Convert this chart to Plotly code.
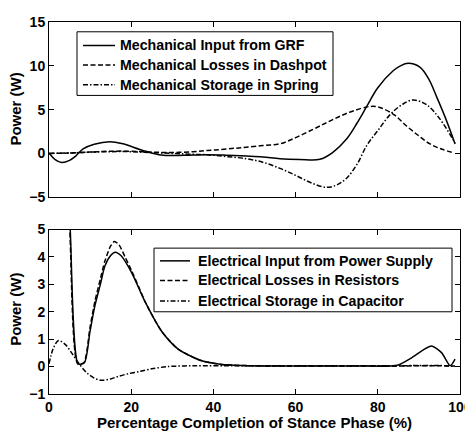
import plotly.graph_objects as go

# ---------------- Top panel (mechanical) ----------------
mech_in_x = [0, 1.5, 3.1, 5, 6.5, 8.3, 11, 14.8, 18, 22.1, 25, 27.8, 33, 38.4, 43, 48, 52, 56.2, 61, 65.9,
             69, 72.4, 75, 77.3, 80, 83.8, 85.5, 87.4, 90.3, 92.5, 94.3, 96.5, 98.8]
mech_in_y = [0.05, -0.7, -1.04, -0.8, -0.3, 0.52, 1.05, 1.34, 1.1, 0.45, 0.05, -0.22, -0.2, -0.15, -0.2, -0.3,
             -0.4, -0.6, -0.68, -0.67, 0.1, 1.64, 3.5, 5.36, 7.5, 9.46, 10.0, 10.28, 9.83, 8.4, 6.48, 4.0, 1.08]

mech_loss_x = [0, 5, 10, 15, 20, 25, 30, 35, 38.4, 42, 45.5, 48, 52, 56.2, 60, 64.3, 67.5, 70.8, 74, 78.1,
               80.5, 84, 87, 90, 92.7, 95.5, 98.4]
mech_loss_y = [0, 0.05, 0.15, 0.25, 0.25, 0.15, 0.1, 0.2, 0.33, 0.45, 0.6, 0.7, 0.9, 1.1, 1.8, 2.76, 3.5, 4.25,
               4.85, 5.36, 5.25, 4.4, 3.13, 2.0, 1.08, 0.5, 0.07]

mech_store_x = [0, 5, 10, 15, 20, 25, 30, 35, 38.4, 43, 48, 52, 56.2, 60, 64, 67.6, 70, 72.4, 75, 77.3, 80,
                83, 86, 88.6, 91.9, 95, 98.8]
mech_store_y = [0, 0.05, 0.15, 0.2, 0.2, 0.1, 0, -0.1, -0.15, -0.35, -0.6, -1.0, -1.71, -2.5, -3.4, -3.87,
                -3.6, -2.83, -1.2, 0.9, 2.6, 4.43, 5.6, 6.1, 5.55, 4.0, 1.2]

# ---------------- Bottom panel (electrical) ----------------
elec_in_x = [0, 3, 5.1, 7.1, 8.6, 10, 11.2, 12.5, 13.6, 15, 16.1, 17.5, 20.1, 23.4, 27.4, 31.5, 37.2, 42, 47,
             55, 65, 75, 83, 85, 88, 91, 93.1, 95.5, 97.6, 98.8]
elec_in_y = [18, 10.5, 5.2, 0.1, 0.14, 1.3, 2.24, 3.0, 3.67, 4.05, 4.17, 4.05, 3.43, 2.36, 1.29, 0.63, 0.21,
             0.08, 0.04, 0.02, 0.02, 0.02, 0.02, 0.06, 0.3, 0.6, 0.75, 0.51, 0.03, 0.27]

elec_loss_x = [0, 3, 5.0, 7.0, 8.5, 10, 11.2, 12.5, 13.6, 15, 15.9, 17, 18.5, 20.1, 22, 23.4, 27.4, 31.5, 37.2,
               42, 47, 55, 65, 75, 85, 90, 95, 98.8]
elec_loss_y = [18, 10.5, 5.2, 0.1, 0.15, 1.45, 2.4, 3.2, 3.85, 4.4, 4.56, 4.45, 4.0, 3.5, 2.85, 2.36, 1.29,
               0.63, 0.21, 0.08, 0.04, 0.02, 0.02, 0.02, 0.02, 0.03, 0.03, 0.02]

elec_store_x = [0, 1, 2.3, 4, 5.5, 7.1, 9, 11, 12.8, 15, 17, 19.3, 22, 25, 29, 35, 45, 60, 75, 85, 90, 95, 98.8]
elec_store_y = [0.1, 0.65, 0.95, 0.8, 0.5, 0.15, -0.2, -0.42, -0.5, -0.45, -0.35, -0.26, -0.18, -0.08, 0.0,
                0.03, 0.03, 0.03, 0.03, 0.03, 0.04, 0.04, 0.0]

x_ticks = [0, 20, 40, 60, 80, 100]
top_y_ticks = [-5, 0, 5, 10, 15]
bot_y_ticks = [-1, 0, 1, 2, 3, 4, 5]

top_names = ["Mechanical Input from GRF", "Mechanical Losses in Dashpot", "Mechanical Storage in Spring"]
bot_names = ["Electrical Input from Power Supply", "Electrical Losses in Resistors", "Electrical Storage in Capacitor"]

FONT = "Liberation Sans, Arial, sans-serif"
LW = 1.5
DASH = "5px,2.5px"
DASHDOT = "5px,2px,1.5px,2px"
STYLES = ["solid", DASH, DASHDOT]

# Page body has an 8px margin; plot area is placed so that on screen it spans x 49..460, y 14..394
OFF = 8
W, H = 473, 433
ML, MR, MT, MB = 49 - OFF, W - 460 + OFF, 14 - OFF, H - 394 + OFF
PW, PH = W - ML - MR, H - MT - MB


def px(sx):  # screen x pixel -> paper x
    return (sx - OFF - ML) / PW


def py(sy):  # screen y pixel -> paper y
    return (H - MB - (sy - OFF)) / PH


fig = go.Figure()


def add(x, y, name, dash, xa, ya, smoothing=1.0):
    fig.add_trace(go.Scatter(
        x=x, y=y, name=name, mode="lines", xaxis=xa, yaxis=ya, showlegend=False,
        line=dict(color="black", width=LW, dash=dash, shape="spline", smoothing=smoothing)))


add(mech_in_x, mech_in_y, top_names[0], STYLES[0], "x", "y")
add(mech_loss_x, mech_loss_y, top_names[1], STYLES[1], "x", "y")
add(mech_store_x, mech_store_y, top_names[2], STYLES[2], "x", "y")
add(elec_in_x, elec_in_y, bot_names[0], STYLES[0], "x2", "y2", 0.7)
add(elec_loss_x, elec_loss_y, bot_names[1], STYLES[1], "x2", "y2", 0.7)
add(elec_store_x, elec_store_y, bot_names[2], STYLES[2], "x2", "y2", 0.9)

axis_common = dict(showline=True, linecolor="black", linewidth=1, mirror="ticks", ticks="inside",
                   ticklen=5, tickwidth=1, tickcolor="black", showgrid=False, zeroline=False,
                   tickfont=dict(family=FONT, size=14, color="black", weight="bold"))

top_dom = [py(193), py(14)]
bot_dom = [py(394), py(226)]

fig.update_layout(
    width=W, height=H,
    margin=dict(l=ML, r=MR, t=MT, b=MB),
    paper_bgcolor="white", plot_bgcolor="white",
    xaxis=dict(domain=[0, 1], anchor="y", range=[0, 100], tickvals=x_ticks, showticklabels=False, **axis_common),
    yaxis=dict(domain=top_dom, anchor="x", range=[-5, 15], tickvals=top_y_ticks, **axis_common),
    xaxis2=dict(domain=[0, 1], anchor="y2", range=[0, 100], tickvals=x_ticks, **axis_common),
    yaxis2=dict(domain=bot_dom, anchor="x2", range=[-1, 5], tickvals=bot_y_ticks, **axis_common),
    showlegend=False,
)

# Legend boxes (drawn as shapes + text, MATLAB style)
legend_font = dict(family=FONT, size=14.2, color="black", weight="bold")


def draw_legend(names, box, rows, line_x0, line_x1, text_x):
    x0, y0, x1, y1 = box
    fig.add_shape(type="rect", xref="paper", yref="paper", x0=px(x0), x1=px(x1), y0=py(y1), y1=py(y0),
                  line=dict(color="black", width=1), fillcolor="white", layer="above")
    for name, style, ry in zip(names, STYLES, rows):
        fig.add_shape(type="line", xref="paper", yref="paper", x0=px(line_x0), x1=px(line_x1),
                      y0=py(ry), y1=py(ry), line=dict(color="black", width=LW, dash=style), layer="above")
        fig.add_annotation(text=name, xref="paper", yref="paper", x=px(text_x), y=py(ry),
                           xanchor="left", yanchor="middle", showarrow=False, font=legend_font)


draw_legend(top_names, (77, 24, 333, 89), (38, 58, 78), 83, 115, 118)
draw_legend(bot_names, (154, 245, 452, 310), (258, 278, 299), 160, 190, 196)

title_font = dict(family=FONT, size=15, color="black", weight="bold")
fig.add_annotation(text="Percentage Completion of Stance Phase (%)", xref="paper", yref="paper",
                   x=px(254.5), y=py(423), xanchor="center", yanchor="middle", showarrow=False, font=title_font)
fig.add_annotation(text="Power (W)", xref="paper", yref="paper", x=px(16), y=py(103.5),
                   xanchor="center", yanchor="middle", textangle=-90, showarrow=False, font=title_font)
fig.add_annotation(text="Power (W)", xref="paper", yref="paper", x=px(16), y=py(308),
                   xanchor="center", yanchor="middle", textangle=-90, showarrow=False, font=title_font)

fig.write_html("out.html")
